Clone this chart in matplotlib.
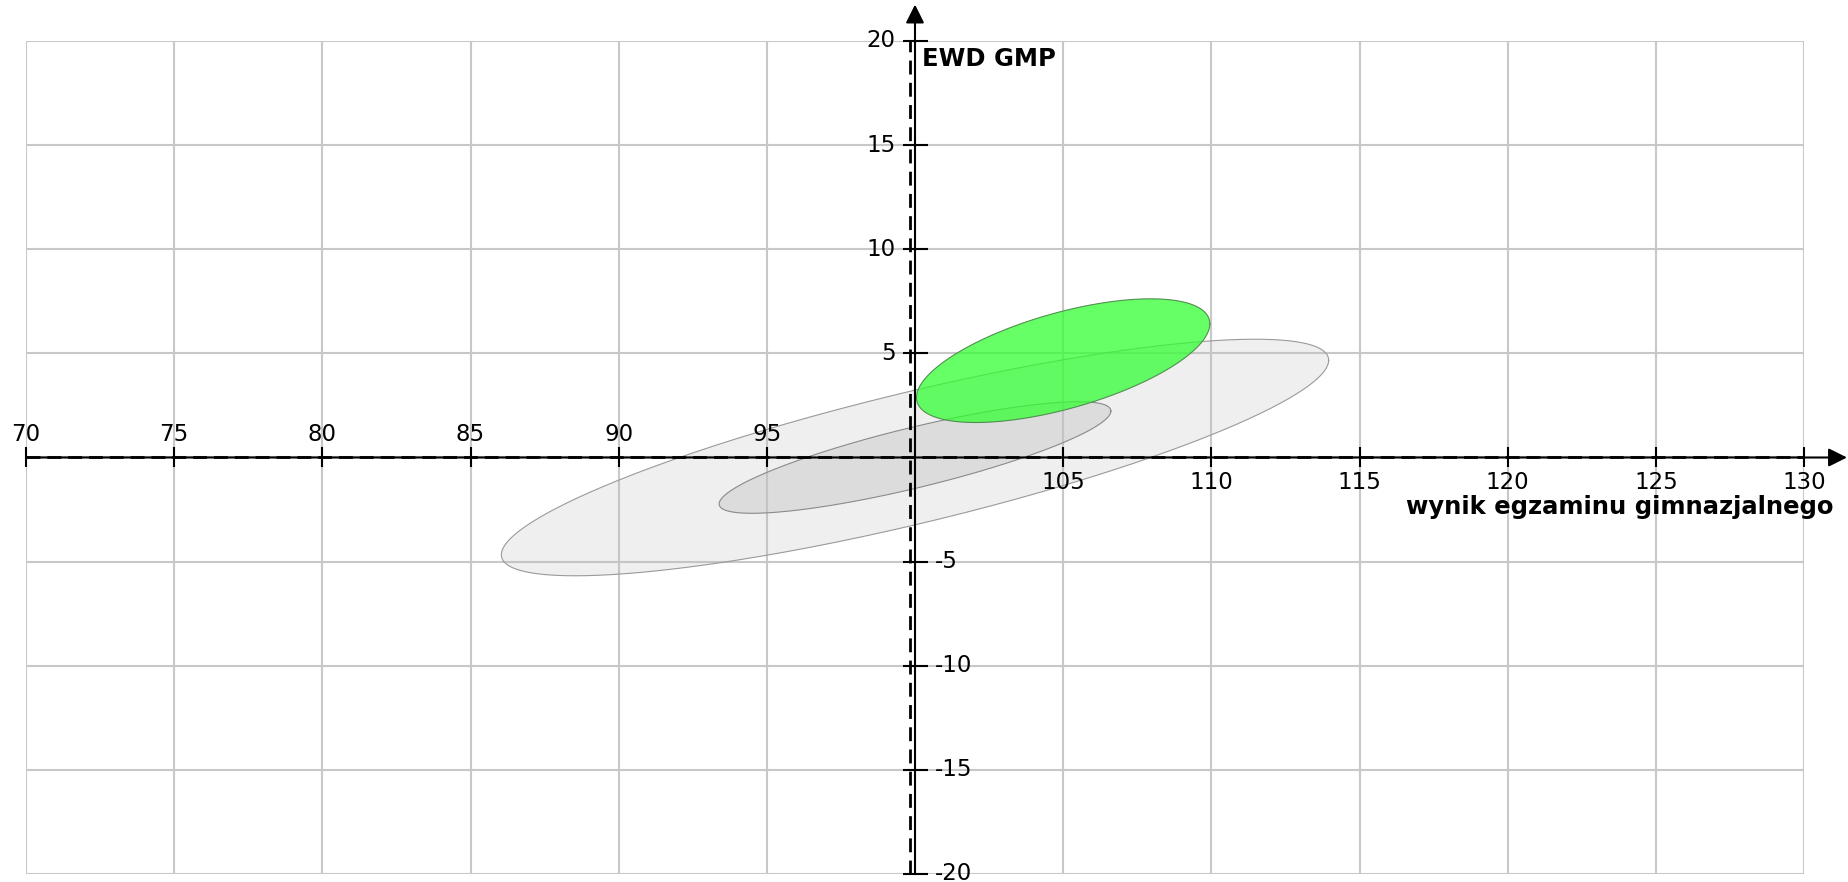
import matplotlib
matplotlib.use("Agg")
import matplotlib.pyplot as plt
import numpy as np

# axis ranges / ticks
x_ticks = [70, 75, 80, 85, 90, 95, 100, 105, 110, 115, 120, 125, 130]
y_ticks = [-20, -15, -10, -5, 0, 5, 10, 15, 20]
x_label = "wynik egzaminu gimnazjalnego"
y_label = "EWD GMP"

# ellipses: centre x, centre y, spread x, spread y, correlation
ell_cx = [100.0, 100.0, 105.0]
ell_cy = [0.0, 0.0, 4.65]
ell_sx = [13.96, 6.61, 4.95]
ell_sy = [5.68, 2.68, 2.97]
ell_rho = [0.822, 0.832, 0.596]
ell_face = ['#c0c0c0', '#c0c0c0', '#33ff33']
ell_alpha = [0.25, 0.4, 0.75]
ell_edge = ['#9a9a9a', '#8a8a8a', '#4f8f4f']


def ellipse_xy(cx, cy, sx, sy, rho, n=400):
    t = np.linspace(0, 2 * np.pi, n)
    x = cx + sx * np.cos(t)
    y = cy + sy * (rho * np.cos(t) + np.sqrt(1 - rho ** 2) * np.sin(t))
    return x, y


fig = plt.figure(figsize=(18.49, 8.82), dpi=100)
ax = fig.add_axes([26 / 1849, 1 - 874 / 882, (1804 - 26) / 1849, (874 - 41) / 882])
ax.set_xlim(70, 130)
ax.set_ylim(-20, 20)
for s in ax.spines.values():
    s.set_visible(False)
ax.set_xticks(x_ticks)
ax.set_yticks(y_ticks)
ax.tick_params(length=0, labelbottom=False, labelleft=False)
ax.grid(True, color='#c8c8c8', lw=1.5, zorder=0)
ax.set_axisbelow(True)

for i in range(len(ell_cx)):
    ex, ey = ellipse_xy(ell_cx[i], ell_cy[i], ell_sx[i], ell_sy[i], ell_rho[i])
    ax.fill(ex, ey, color=ell_face[i], alpha=ell_alpha[i], lw=0, zorder=2)
    ax.plot(ex, ey, color=ell_edge[i], lw=0.8, zorder=2)

# axis lines with arrows
ax.annotate('', xy=(131.45, 0), xytext=(70, 0), xycoords='data',
            arrowprops=dict(arrowstyle='-|>', color='black', lw=1.5,
                            mutation_scale=28, shrinkA=0, shrinkB=0),
            annotation_clip=False, zorder=5)
ax.annotate('', xy=(100, 21.75), xytext=(100, -20), xycoords='data',
            arrowprops=dict(arrowstyle='-|>', color='black', lw=1.5,
                            mutation_scale=28, shrinkA=0, shrinkB=0),
            annotation_clip=False, zorder=5)
ax.plot([70, 130], [0, 0], color='black', lw=2.0, ls=(0, (5, 2.5)), zorder=4)
ax.plot([99.83, 99.83], [-20, 20], color='black', lw=2.0, ls=(0, (5, 3)), zorder=4)

# tick marks
xt = [v for v in x_ticks if v != 100]
ax.plot(xt, [0] * len(xt), ls='none', marker='|', markersize=15,
        mew=1.5, color='black', zorder=5, clip_on=False)
yt = [v for v in y_ticks if v != 0]
ax.plot([100] * len(yt), yt, ls='none', marker='_', markersize=18,
        mew=1.5, color='black', zorder=5, clip_on=False)

# tick labels
for v in xt:
    if v < 100:
        ax.annotate(str(v), xy=(v, 0), xytext=(0, 8), textcoords='offset points',
                    ha='center', va='bottom', fontsize=16.5, annotation_clip=False)
    else:
        ax.annotate(str(v), xy=(v, 0), xytext=(0, -10), textcoords='offset points',
                    ha='center', va='top', fontsize=16.5, annotation_clip=False)
for v in yt:
    if v > 0:
        ax.annotate(str(v), xy=(100, v), xytext=(-14, 0), textcoords='offset points',
                    ha='right', va='center', fontsize=16.5, annotation_clip=False)
    else:
        ax.annotate(str(v), xy=(100, v), xytext=(14, 0), textcoords='offset points',
                    ha='left', va='center', fontsize=16.5, annotation_clip=False)

ax.annotate(y_label, xy=(100, 20), xytext=(5, -4), textcoords='offset points',
            ha='left', va='top', fontsize=17.5, fontweight='bold', annotation_clip=False)
ax.annotate(x_label, xy=(130, 0), xytext=(21, -27), textcoords='offset points',
            ha='right', va='top', fontsize=17.5, fontweight='bold', annotation_clip=False)

fig.savefig('out.png', dpi=100)
